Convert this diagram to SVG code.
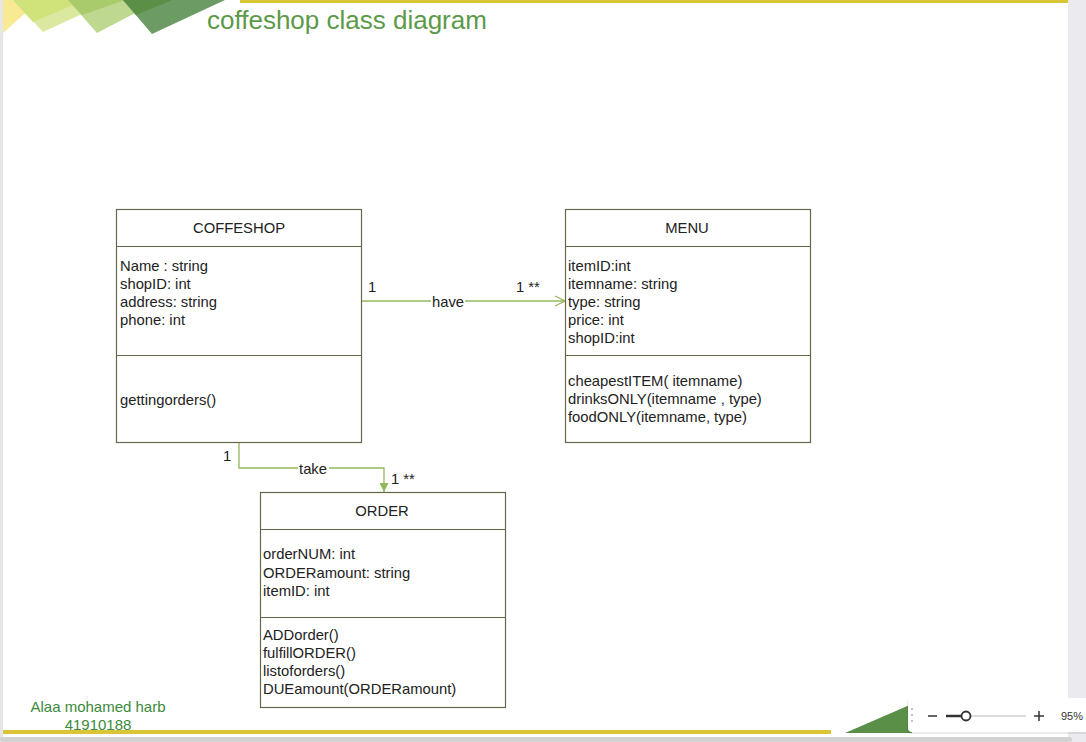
<svg xmlns="http://www.w3.org/2000/svg" width="1086" height="742" viewBox="0 0 1086 742">
<defs>
<style>
.box{fill:#ffffff;stroke:#66664a;stroke-width:1.2}
.div{stroke:#66664a;stroke-width:1.2}
.t{font-family:"Liberation Sans",Arial,sans-serif;font-size:14.8px;fill:#222222}
.c{text-anchor:middle}
.conn{fill:none;stroke:#93b85c;stroke-width:1.3}
.lbl{font-family:"Liberation Sans",Arial,sans-serif;font-size:14.8px;fill:#222222;text-anchor:middle}
</style>
<marker id="open" viewBox="0 0 12 12" refX="11" refY="6" markerWidth="12" markerHeight="12" markerUnits="userSpaceOnUse" orient="auto">
<path d="M1,1 L11,6 L1,11" fill="none" stroke="#93b85c" stroke-width="1.3"/>
</marker>
<marker id="fill" viewBox="0 0 10 10" refX="10" refY="5" markerWidth="9" markerHeight="9" markerUnits="userSpaceOnUse" orient="auto">
<path d="M0,0 L10,5 L0,10 z" fill="#93b85c"/>
</marker>
</defs>
<rect x="0" y="0" width="1086" height="742" fill="#ffffff"/>
<rect x="0" y="0" width="3" height="742" fill="#e6e6ea"/>
<rect x="1068" y="0" width="18" height="742" fill="#ebebef"/>
<rect x="240" y="0" width="828" height="3" fill="#d9c536"/>
<rect x="3" y="730" width="828" height="4" fill="#d9c536"/>
<g id="decor-top">
<polygon points="3,0 40,0 3,33" fill="#f8ea92"/>
<polygon points="13,0 112,0 43,32" fill="#dbe9a0"/>
<polygon points="13,0 85,0 33,22" fill="#cfe37a"/>
<polygon points="68,0 160,0 97,33" fill="#bed88f"/>
<polygon points="68,0 125,0 82,15" fill="#a9cb6b"/>
<polygon points="123,0 225,0 152,34" fill="#6c9c64"/>
<polygon points="123,0 172,0 136,15" fill="#5b8e47"/>
</g>
<text x="207" y="29" font-family="Liberation Sans,Arial,sans-serif" font-size="26" fill="#5c9a4a">coffeshop class diagram</text>
<g id="connectors">
<path class="conn" d="M361,301 L565,301" marker-end="url(#open)"/>
<path class="conn" d="M239,442 L239,468 L384,468 L384,492" marker-end="url(#fill)"/>
<rect x="431" y="293" width="34" height="15" fill="#ffffff"/>
<text class="lbl" x="448" y="307">have</text>
<rect x="298" y="461" width="31" height="14" fill="#ffffff"/>
<text class="lbl" x="313" y="474">take</text>
<text class="t" x="368" y="292">1</text>
<text class="t" x="516" y="292">1 **</text>
<text class="t" x="223" y="461">1</text>
<text class="t" x="391" y="484">1 **</text>
</g>
<g id="COFFESHOP">
<rect class="box" x="116.5" y="209.5" width="245" height="233"/>
<line class="div" x1="116.5" y1="246.5" x2="361.5" y2="246.5"/>
<line class="div" x1="116.5" y1="355.5" x2="361.5" y2="355.5"/>
<text class="t c" x="239" y="233">COFFESHOP</text>
<text class="t" x="120" y="271">Name : string</text>
<text class="t" x="120" y="289">shopID: int</text>
<text class="t" x="120" y="307">address: string</text>
<text class="t" x="120" y="325">phone: int</text>
<text class="t" x="120" y="405">gettingorders()</text>
</g>
<g id="MENU">
<rect class="box" x="565.5" y="209.5" width="245" height="233"/>
<line class="div" x1="565.5" y1="246.5" x2="810.5" y2="246.5"/>
<line class="div" x1="565.5" y1="355.5" x2="810.5" y2="355.5"/>
<text class="t c" x="687" y="233">MENU</text>
<text class="t" x="568" y="271">itemID:int</text>
<text class="t" x="568" y="289">itemname: string</text>
<text class="t" x="568" y="307">type: string</text>
<text class="t" x="568" y="325">price: int</text>
<text class="t" x="568" y="343">shopID:int</text>
<text class="t" x="568" y="386">cheapestITEM( itemname)</text>
<text class="t" x="568" y="404">drinksONLY(itemname , type)</text>
<text class="t" x="568" y="422">foodONLY(itemname, type)</text>
</g>
<g id="ORDER">
<rect class="box" x="260.5" y="492.5" width="245" height="215"/>
<line class="div" x1="260.5" y1="529.5" x2="505.5" y2="529.5"/>
<line class="div" x1="260.5" y1="617.5" x2="505.5" y2="617.5"/>
<text class="t c" x="382" y="516">ORDER</text>
<text class="t" x="263" y="559">orderNUM: int</text>
<text class="t" x="263" y="578">ORDERamount: string</text>
<text class="t" x="263" y="596">itemID: int</text>
<text class="t" x="263" y="640">ADDorder()</text>
<text class="t" x="263" y="658">fulfillORDER()</text>
<text class="t" x="263" y="676">listoforders()</text>
<text class="t" x="263" y="694">DUEamount(ORDERamount)</text>
</g>
<g id="footer">
<text x="98" y="712" text-anchor="middle" font-family="Liberation Sans,Arial,sans-serif" font-size="15" fill="#3b8a3b">Alaa mohamed harb</text>
<text x="98" y="730" text-anchor="middle" font-family="Liberation Sans,Arial,sans-serif" font-size="15" fill="#3b8a3b">41910188</text>
</g>
<polygon points="845,733 912,704 912,733" fill="#5a8f48"/>
<rect x="0" y="737" width="1072" height="5" rx="2" fill="#d2d2d2"/>
<g id="zoom-widget">
<rect x="907" y="699" width="185" height="35" rx="4" fill="#000000" opacity="0.08"/>
<rect x="908" y="698" width="180" height="34" rx="4" fill="#ffffff"/>
<circle cx="912" cy="709" r="1" fill="#aaaaaa"/>
<circle cx="912" cy="715" r="1" fill="#aaaaaa"/>
<circle cx="912" cy="721" r="1" fill="#aaaaaa"/>
<line x1="928" y1="716" x2="937" y2="716" stroke="#333333" stroke-width="1.5"/>
<line x1="946" y1="716" x2="1026" y2="716" stroke="#dddddd" stroke-width="2"/>
<line x1="946" y1="716" x2="962" y2="716" stroke="#333333" stroke-width="2.5"/>
<circle cx="966" cy="716" r="4.5" fill="#ffffff" stroke="#333333" stroke-width="1.8"/>
<line x1="1034" y1="716" x2="1044" y2="716" stroke="#333333" stroke-width="1.5"/>
<line x1="1039" y1="711" x2="1039" y2="721" stroke="#333333" stroke-width="1.5"/>
<text x="1061" y="720" font-family="Liberation Sans,Arial,sans-serif" font-size="11" fill="#333333">95%</text>
</g>
</svg>
